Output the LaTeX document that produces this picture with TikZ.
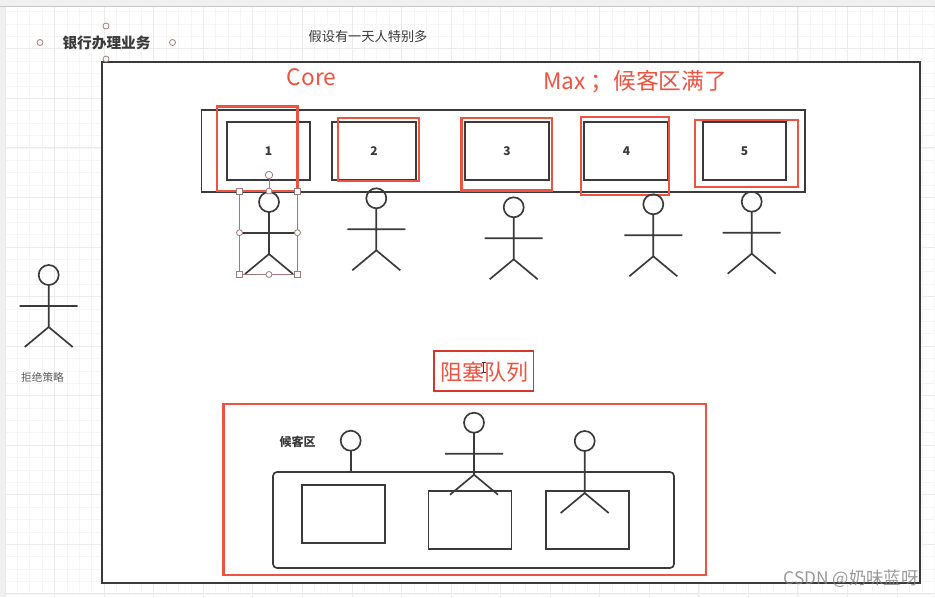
\documentclass[tikz,border=0pt]{standalone}
\usepackage{fontspec}
\usepackage{tikz}
\usepackage{xcolor}
\setmainfont{Noto Sans CJK SC}

\definecolor{inkdark}{HTML}{3A3A3A}
\definecolor{markred}{HTML}{EE5240}
\definecolor{deepred}{HTML}{D9362B}
\definecolor{handlebrown}{HTML}{A07A78}

\tikzset{
    gridminor/.style={color=black!4,line width=0.5pt},
    gridmajor/.style={color=black!8,line width=0.5pt},
    framebox/.style={draw=inkdark,line width=1.25pt},
    redbox/.style={draw=markred,line width=2pt},
    handledot/.style={draw=handlebrown,fill=white,line width=0.6pt},
    txt/.style={inner sep=0.75pt,text=inkdark},
    redtxt/.style={inner sep=0.75pt,text=markred},
    stickman/.pic={
        \draw[framebox] (0,0) circle (10);
        \draw[framebox] (0,-10) -- (0,-52) (-29,-31) -- (29,-31) (-24,-72) -- (0,-52) -- (24,-72);
    },
}

\begin{document}
\begin{tikzpicture}[x=0.75pt,y=0.75pt,yscale=-1,xscale=1]
    \useasboundingbox (0,0) rectangle (935,597);
    %Background grid
    \fill[white] (0,0) rectangle (935,597);
    \foreach \k in {0,...,75} \draw[gridminor] ({5+12.39*\k},6) -- ({5+12.39*\k},597);
    \foreach \k in {1,...,48} \draw[gridminor] (5,{-0.85+12.39*\k}) -- (935,{-0.85+12.39*\k});
    \foreach \k in {0,...,18} \draw[gridmajor] ({5+49.55*\k},6) -- ({5+49.55*\k},597);
    \foreach \k in {1,...,12} \draw[gridmajor] (5,{-0.85+49.55*\k}) -- (935,{-0.85+49.55*\k});
    %Editor edges
    \fill[black!6] (0,0) rectangle (935,6);
    \fill[black!6] (0,0) rectangle (5,597);
    \draw[black!22,line width=0.6pt] (0,6.5) -- (935,6.5);

    %Outer frame
    \draw[framebox,fill=white] (102,62) rectangle (920,583);

    % Title text and its handles
    \node[txt,font=\bfseries\fontsize{11}{13}\selectfont] (title) at (106.5,43) {银行办理业务};
    \node[txt,font=\fontsize{9.9}{12}\selectfont] (note) at (368,36) {假设有一天人特别多};
    \draw[handledot] (106,26) circle (3);
    \draw[handledot] (40,42.5) circle (3);
    \draw[handledot] (172.5,42.5) circle (3);
    \draw[handledot] (106,59) circle (3);

    % Red headings
    \node[redtxt,font=\fontsize{17}{20}\selectfont] (core) at (311.5,77) {Core};
    \node[redtxt,font=\fontsize{17}{20}\selectfont] (max) at (635,82) {Max ；候客区满了};

    %Window row
    \draw[framebox] (201.5,110) rectangle (805,192);
    \draw[framebox] (227,122) rectangle (310,180);
    \draw[framebox] (332,122) rectangle (416,180);
    \draw[framebox] (465,122) rectangle (549,180);
    \draw[framebox] (584,122) rectangle (668,180);
    \draw[framebox] (703,122) rectangle (786,180);
    \node[txt,font=\bfseries\small] (win1) at (268.5,151) {1};
    \node[txt,font=\bfseries\small] (win2) at (374,151) {2};
    \node[txt,font=\bfseries\small] (win3) at (507,151) {3};
    \node[txt,font=\bfseries\small] (win4) at (626.5,151) {4};
    \node[txt,font=\bfseries\small] (win5) at (744.5,151) {5};

    %Red marks on the windows
    \draw[redbox] (217,106.5) rectangle (297.5,191);
    \draw[redbox] (338,118) rectangle (419,181);
    \draw[redbox] (461.5,118) rectangle (552,190.5);
    \draw[redbox] (581,117) rectangle (669,195);
    \draw[redbox] (695,120) rectangle (798,187);

    %People at the windows
    \pic at (269,202) {stickman};
    \pic at (376.3,198.3) {stickman};
    \pic at (513.7,207.3) {stickman};
    \pic at (653.3,204.3) {stickman};
    \pic at (751.7,201.7) {stickman};

    %Selection around the first person
    \draw[handlebrown,line width=0.5pt] (239.5,191) rectangle (297.5,274.5) (269,175) -- (269,191);
    \draw[handledot] (269,175) circle (3.7);
    \draw[handledot] (269,191) circle (3);
    \draw[handledot] (239.5,232.7) circle (3);
    \draw[handledot] (297.5,232.7) circle (3);
    \draw[handledot] (269,274.5) circle (3);
    \draw[handledot] (236.5,188) rectangle (242.5,194);
    \draw[handledot] (294.5,188) rectangle (300.5,194);
    \draw[handledot] (236.5,271.5) rectangle (242.5,277.5);
    \draw[handledot] (294.5,271.5) rectangle (300.5,277.5);

    %Person turned away
    \pic at (48.7,275) {stickman};
    \node[txt,font=\fontsize{8}{10}\selectfont,text=black!65] (reject) at (42.5,377) {拒绝策略};

    %Queue heading
    \draw[draw=deepred,line width=1.4pt] (434,351) rectangle (533.5,391);
    \node[redtxt,font=\fontsize{16.5}{20}\selectfont] (queue) at (484,372) {阻塞队列};
    \draw[inkdark,line width=0.5pt] (481.5,362) -- (485.5,362) (483.5,362) -- (483.5,372) (481.5,372) -- (485.5,372);

    %Waiting area
    \draw[redbox] (223.5,404) rectangle (706,575);
    \node[txt,font=\bfseries\fontsize{9}{11}\selectfont] (wait) at (297.5,441.5) {候客区};
    \draw[framebox,rounded corners=3pt] (273,472) rectangle (674,568);
    \draw[framebox] (302,485) rectangle (385,543);
    \draw[framebox] (428.5,491) rectangle (511.5,549);
    \draw[framebox] (546,491) rectangle (629,549);

    %People waiting
    \draw[framebox] (350.7,440.7) circle (10);
    \draw[framebox] (350.7,450.7) -- (350.7,472);
    \pic at (474,422.7) {stickman};
    \pic at (584.7,441) {stickman};

    % Watermark
    \node[inner sep=0.75pt,text=black!50,opacity=0.8,font=\fontsize{13}{15}\selectfont] (mark) at (851,578.5) {CSDN @奶味蓝呀};
\end{tikzpicture}
\end{document}
